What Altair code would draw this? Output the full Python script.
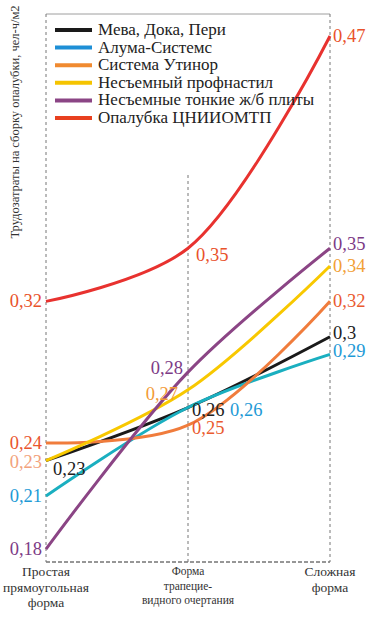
import altair as alt
import pandas as pd

# ---------------- data ----------------
CATEGORIES = ["Простая", "Трапециевидная", "Сложная"]
X_LABELS = ["Простая|прямоугольная|форма", "Форма|трапецие-|видного очертания", "Сложная|форма"]
SERIES = [
    "Мева, Дока, Пери",
    "Алума-Системс",
    "Система Утинор",
    "Несъемный профнастил",
    "Несъемные тонкие  ж/б плиты",
    "Опалубка ЦНИИОМТП",
]
MEVA = [0.23, 0.26, 0.30]
ALUMA = [0.21, 0.26, 0.29]
UTINOR = [0.24, 0.25, 0.32]
PROFNASTIL = [0.23, 0.27, 0.34]
PLITY = [0.18, 0.28, 0.35]
CNIIOMTP = [0.32, 0.35, 0.47]
VALUES = [MEVA, ALUMA, UTINOR, PROFNASTIL, PLITY, CNIIOMTP]
Y_TITLE = "Трудозатраты на сборку опалубки, чел-ч/м2"

# ---------------- styles ----------------
SERIF = "Liberation Serif"
LINE_COLORS = ["#1a1a1a", "#1aafc0", "#f07c3c", "#f8c800", "#8b4585", "#e8322f"]
LEGEND_COLORS = ["#1a1a1a", "#1e8fd6", "#f08a30", "#f5c400", "#8b4585", "#e8401f"]
W, H = 284, 548
Y_DOMAIN = [0.1727, 0.4824]

rows = []
for si, s in enumerate(SERIES):
    for ci, c in enumerate(CATEGORIES):
        v = VALUES[si][ci]
        rows.append({"series": s, "si": si, "cat": c, "ci": ci, "value": v,
                     "text": str(v).replace(".", ",")})
df = pd.DataFrame(rows)

xenc = alt.X("cat:N", sort=CATEGORIES,
             scale=alt.Scale(type="point", domain=CATEGORIES, padding=0), axis=None)
yscale = alt.Scale(domain=Y_DOMAIN, nice=False, zero=False)

# grid / frame
cat_df = pd.DataFrame({"cat": CATEGORIES, "label": X_LABELS})
outer_grid = alt.Chart(cat_df).transform_filter(
    alt.FieldOneOfPredicate(field="cat", oneOf=[CATEGORIES[0], CATEGORIES[2]])
).mark_rule(color="#777", strokeDash=[3, 3], strokeWidth=1).encode(
    x=xenc, y=alt.value(0), y2=alt.value(H))
mid_grid = alt.Chart(cat_df).transform_filter(
    alt.FieldEqualPredicate(field="cat", equal=CATEGORIES[1])
).mark_rule(color="#777", strokeDash=[3, 3], strokeWidth=1).encode(
    x=xenc, y=alt.value(161), y2=alt.value(H))
top_line = alt.Chart(cat_df).mark_rule(color="#c8c8c8", strokeWidth=1).encode(
    x=alt.value(0), x2=alt.value(W), y=alt.value(0))
bottom_line = alt.Chart(cat_df).mark_rule(color="#888", strokeDash=[4, 2], strokeWidth=1).encode(
    x=alt.value(0), x2=alt.value(W), y=alt.value(H))

lines = alt.Chart(df).mark_line(interpolate="catmull-rom", strokeWidth=3).encode(
    x=xenc,
    y=alt.Y("value:Q", scale=yscale, axis=None),
    color=alt.Color("series:N", scale=alt.Scale(domain=SERIES, range=LINE_COLORS), legend=None),
    order=alt.Order("ci:Q"),
)

ytitle = alt.Chart(pd.DataFrame({"t": [Y_TITLE]})).mark_text(
    font=SERIF, fontSize=12.5, angle=270, align="center", baseline="middle", color="#333"
).encode(x=alt.value(-31), y=alt.value(108), text="t:N")

# value labels: (series index, category index) -> align, dx, dy, color
LBL = {
    (5, 0): ("right", -4, 0, "#e9522b"),
    (2, 0): ("right", -4, 0, "#e9552e"),
    (3, 0): ("right", -4, 1, "#f2a27c"),
    (1, 0): ("right", -4, 0, "#1e9ad6"),
    (4, 0): ("right", -4, 0, "#7d3b86"),
    (0, 0): ("left", 7, 8, "#222222"),
    (4, 1): ("right", -5, -4, "#7d3b86"),
    (3, 1): ("right", -10, 4, "#f29a36"),
    (0, 1): ("left", 4, 2, "#222222"),
    (1, 1): ("left", 42, 2, "#1e9ad6"),
    (2, 1): ("left", 4, 3, "#ea5b30"),
    (5, 1): ("left", 8, 7, "#e9522b"),
    (5, 2): ("left", 3, 0, "#e9522b"),
    (4, 2): ("left", 3, -4, "#7d3b86"),
    (3, 2): ("left", 3, 0, "#f2a035"),
    (2, 2): ("left", 3, 0, "#ea5b30"),
    (0, 2): ("left", 3, -4, "#222222"),
    (1, 2): ("left", 3, -3, "#1e9ad6"),
}
label_layers = []
for (si, ci), (al, dx, dy, col) in LBL.items():
    label_layers.append(
        alt.Chart(df).transform_filter(
            (alt.datum.si == si) & (alt.datum.ci == ci)
        ).mark_text(font=SERIF, fontSize=18.5, align=al, baseline="middle",
                    dx=dx, dy=dy, color=col).encode(
            x=xenc, y=alt.Y("value:Q", scale=yscale, axis=None), text="text:N")
    )

xl_outer = alt.Chart(cat_df).transform_filter(
    alt.FieldOneOfPredicate(field="cat", oneOf=[CATEGORIES[0], CATEGORIES[2]])
).mark_text(font=SERIF, fontSize=13.5, lineBreak="|", lineHeight=15.5, align="center",
            baseline="top", color="#333").encode(x=xenc, y=alt.value(H + 3), text="label:N")
xl_mid = alt.Chart(cat_df).transform_filter(
    alt.FieldEqualPredicate(field="cat", equal=CATEGORIES[1])
).mark_text(font=SERIF, fontSize=11.5, lineBreak="|", lineHeight=14.5, align="center",
            baseline="top", color="#333").encode(x=xenc, y=alt.value(H + 4), text="label:N")

# custom legend
leg_df = pd.DataFrame({"name": SERIES})
leg_y = alt.Y("name:N", sort=SERIES,
              scale=alt.Scale(type="point", domain=SERIES, range=[16, 104], padding=0), axis=None)
leg_rules = alt.Chart(leg_df).mark_rule(strokeWidth=4).encode(
    x=alt.value(9), x2=alt.value(46), y=leg_y,
    color=alt.Color("name:N", scale=alt.Scale(domain=SERIES, range=LEGEND_COLORS), legend=None))
leg_text = alt.Chart(leg_df).mark_text(font=SERIF, fontSize=17, align="left",
                                       baseline="middle", color="#222").encode(
    x=alt.value(52), y=leg_y, text="name:N")

chart = alt.layer(
    top_line, bottom_line, outer_grid, mid_grid, lines, *label_layers,
    xl_outer, xl_mid, ytitle, leg_rules, leg_text
).resolve_scale(y="independent", color="independent").properties(
    width=W, height=H,
    autosize=alt.AutoSizeParams(type="none"),
    padding={"left": 46, "top": 14, "right": 46, "bottom": 55},
    background="white",
).configure_view(stroke=None)

chart.save("out.html", embed_options={"renderer": "svg", "actions": False})
